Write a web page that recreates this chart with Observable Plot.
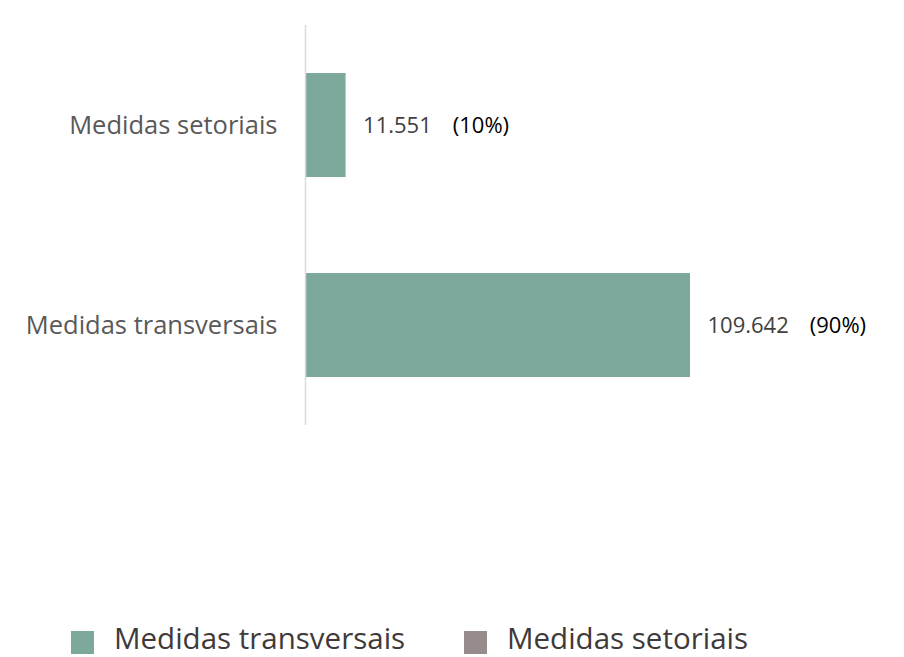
<!DOCTYPE html>
<html>
<head>
<meta charset="utf-8">
<script src="https://cdn.jsdelivr.net/npm/d3@7"></script>
<script src="https://cdn.jsdelivr.net/npm/@observablehq/plot@0.6"></script>
<style>
  body { margin: 0; background: #fff; overflow: hidden; }
  #chart { width: 904px; height: 657px; overflow: hidden; }
  #chart svg { display: block; }
</style>
</head>
<body>
<div id="chart"></div>
<script>
const categories = ["Medidas setoriais", "Medidas transversais"];
const values = [11551, 109642];
const valueLabels = ["11.551", "109.642"];
const pctLabels = ["(10%)", "(90%)"];
const legendNames = ["Medidas transversais", "Medidas setoriais"];
const legendColors = ["#7da89c", "#968c8c"];

const data = categories.map((c, i) => ({cat: c, v: values[i], lab: valueLabels[i], pct: pctLabels[i]}));

const plot = Plot.plot({
  width: 904,
  height: 600,
  marginLeft: 305,
  marginRight: 214,
  marginTop: 25,
  marginBottom: 175,
  style: {fontFamily: "'Open Sans', sans-serif", background: "#fff"},
  x: {domain: [0, 109642], axis: null},
  y: {domain: categories, paddingInner: 0.48, paddingOuter: 0.24, label: null},
  marks: [
    Plot.axisY({tickSize: 0, tickPadding: 28, fontSize: 25.5, color: "#595959", label: null}),
    Plot.barX(data, {x: "v", y: "cat", fill: legendColors[0]}),
    Plot.ruleX([0], {stroke: "#d9d9d9", strokeWidth: 1.5}),
    Plot.text(data, {x: "v", y: "cat", text: "lab", textAnchor: "start", dx: 17, fontSize: 22, fill: "#404040", className: "vlab"})
  ]
});
document.getElementById("chart").appendChild(plot);

d3.select(plot).selectAll(".vlab text").each(function(d, i) {
  d3.select(this).append("tspan").attr("dx", 21).attr("fill", "#000").text(pctLabels[i]);
});

// legend below the plot
const swX = [71, 464];
const lg = d3.select("#chart").append("svg")
  .attr("width", 904).attr("height", 57)
  .style("font-family", "'Open Sans', sans-serif");
legendNames.forEach((n, i) => {
  lg.append("rect").attr("x", swX[i]).attr("y", 31).attr("width", 23).attr("height", 23).attr("fill", legendColors[i]);
  lg.append("text").attr("x", swX[i] + 43).attr("y", 49).attr("font-size", 29.5).attr("fill", "#3f3a3a").text(n);
});
</script>
</body>
</html>
